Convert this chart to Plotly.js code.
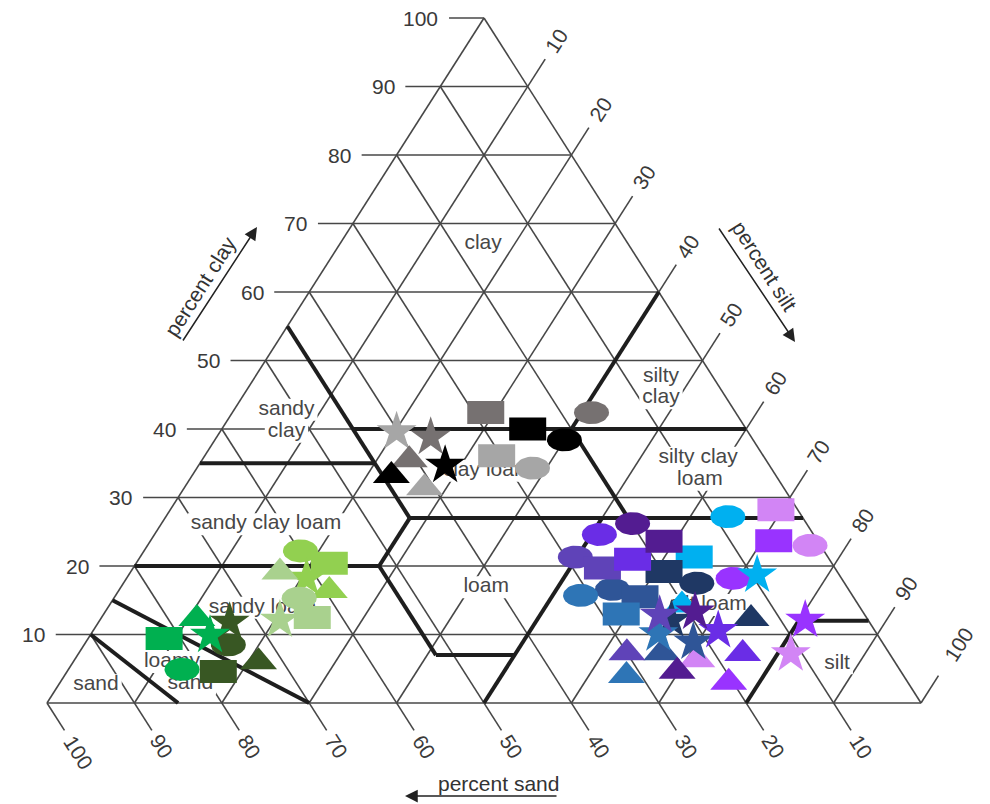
<!DOCTYPE html>
<html>
<head>
<meta charset="utf-8">
<script src="https://cdn.plot.ly/plotly-3.0.1.min.js"></script>
<style>
  html, body { margin: 0; padding: 0; background: #ffffff; }
  #chart { width: 990px; height: 804px; }
</style>
</head>
<body>
<div id="chart"></div>
<script>
// ---- data: soil texture of the samples (percent clay / silt / sand) ----
// one row per sample series, columns follow markerShapes
const seriesColors = ['#a6a6a6', '#767171', '#000000', '#92d050', '#a9d18e', '#385723', '#00b050',
  '#9933ff', '#d285f5', '#00b0f0', '#1f3864', '#2f5597', '#2e75b6', '#5f43b8', '#6a2de6', '#531c91'];
const markerShapes = ['ellipse', 'rect', 'star', 'triangle'];

const clayPct = [
  [34.3, 36.1, 39.6, 31.4],
  [42.4, 42.4, 38.8, 35.5],
  [38.4, 40.0, 34.7, 33.2],
  [22.2, 20.4, 18.2, 16.4],
  [15.3, 12.5, 12.1, 19.1],
  [8.5, 4.6, 11.8, 6.0],
  [4.9, 9.4, 9.9, 12.3],
  [18.2, 23.7, 12.1, 3.0],
  [23.0, 28.2, 7.2, 6.3],
  [27.2, 21.3, 18.7, 14.3],
  [17.5, 19.2, 12.1, 12.3],
  [16.6, 15.5, 8.9, 7.3],
  [15.7, 13.0, 10.1, 4.0],
  [21.3, 19.7, 12.8, 7.3],
  [24.6, 21.0, 10.6, 7.2],
  [26.2, 23.6, 13.3, 4.6]
];
const siltPct = [
  [38.4, 33.4, 20.2, 27.5],
  [41.1, 29.0, 24.5, 23.7],
  [40.0, 35.0, 28.2, 22.8],
  [17.9, 22.1, 20.6, 24.1],
  [21.2, 24.1, 20.6, 17.1],
  [16.5, 17.3, 15.0, 21.2],
  [13.0, 8.7, 13.7, 11.0],
  [69.4, 71.3, 80.7, 76.5],
  [75.8, 69.3, 81.5, 71.2],
  [64.3, 63.4, 71.9, 65.5],
  [65.6, 61.0, 65.4, 74.4],
  [56.4, 60.1, 69.5, 66.7],
  [53.2, 59.2, 64.9, 64.3],
  [49.8, 53.7, 63.7, 62.7],
  [50.9, 56.5, 71.5, 76.0],
  [53.9, 58.8, 67.5, 69.8]
];
const sandPct = [
  [27.3, 30.5, 40.2, 41.1],
  [16.5, 28.6, 36.7, 40.8],
  [21.6, 25.0, 37.1, 44.0],
  [59.9, 57.5, 61.2, 59.5],
  [63.5, 63.4, 67.3, 63.8],
  [75.0, 78.1, 73.2, 72.8],
  [82.1, 81.9, 76.4, 76.7],
  [12.4, 5.0, 7.2, 20.5],
  [1.2, 2.5, 11.3, 22.5],
  [8.5, 15.3, 9.4, 20.2],
  [16.9, 19.8, 22.5, 13.3],
  [27.0, 24.4, 21.6, 26.0],
  [31.1, 27.8, 25.0, 31.7],
  [28.9, 26.6, 23.5, 30.0],
  [24.5, 22.5, 17.9, 16.8],
  [19.9, 17.6, 19.2, 25.6]
];

// axis tick values (percent)
const tickValues = [10, 20, 30, 40, 50, 60, 70, 80, 90, 100];

// USDA texture class boundaries, each as [sand, silt, clay] end points
const classBoundaries = [
  [[45, 0, 55], [45, 28, 27]],
  [[65, 0, 35], [45, 20, 35]],
  [[45, 15, 40], [0, 60, 40]],
  [[0, 40, 60], [20, 40, 40]],
  [[20, 40, 40], [20, 53, 27]],
  [[45, 28, 27], [0, 73, 27]],
  [[45, 28, 27], [52, 28, 20]],
  [[80, 0, 20], [52, 28, 20]],
  [[52, 28, 20], [52, 41, 7]],
  [[52, 41, 7], [43, 50, 7]],
  [[23, 50, 27], [50, 50, 0]],
  [[20, 80, 0], [8, 80, 12]],
  [[8, 80, 12], [0, 88, 12]],
  [[85, 0, 15], [70, 30, 0]],
  [[90, 0, 10], [85, 15, 0]]
];

// texture class names, one entry per text line, with their [silt, clay] anchor
const classNames = ['clay', 'sandy', 'clay', 'silty', 'clay', 'silty clay', 'loam', 'clay loam',
  'sandy clay loam', 'loam', 'sandy loam', 'silt loam', 'loamy', 'sand', 'sand', 'silt'];
const classSilt = [16.4, 6.0, 7.6, 46.4, 48.0, 56.6, 58.4, 33.4, 12.0, 41.8, 17.7, 68.5, 11.3, 15.0, 4.3, 87.5];
const classClay = [67.0, 42.8, 39.6, 47.7, 44.5, 35.8, 32.6, 33.9, 26.1, 16.9, 13.9, 14.3, 6.0, 2.8, 2.6, 5.8];

// ---- geometry of the drawing ----
const W = 990, H = 804;
const originPx = [47, 703];      // 100 % sand corner
const unitPx = [8.74, 6.85];     // pixels per percent (horizontal, vertical)
const xRange = [-originPx[0] / unitPx[0], (W - originPx[0]) / unitPx[0]];
const yRange = [(originPx[1] - H) / unitPx[1], originPx[1] / unitPx[1]];
const TICK = 4;                  // tick extension, percent units

// ternary (silt, clay) -> plot coordinates
function tern(silt, clay) { return [silt + clay / 2, clay]; }

const FONT = 'Liberation Sans, Arial, Helvetica, sans-serif';
const FONT_SIZE = 21;
const traces = [];

// grid lines every 10 % with their tick extensions
const gx = [], gy = [];
function seg(a, b) { gx.push(a[0], b[0], null); gy.push(a[1], b[1], null); }
for (const k of tickValues) {
  // clay = k (horizontal), extended to the left
  if (k < 100) seg([k / 2 - TICK, k], [100 - k / 2, k]);
  else seg([50 - TICK, 100], [50, 100]);
  // sand = k, extended below the base
  seg(tern(100 - k + TICK, -TICK), tern(0, 100 - k));
  // silt = k, extended beyond the right side
  seg(tern(k, 0), tern(k, 100 - k + TICK));
}
seg(tern(0, 0), tern(100, 0));
seg(tern(100, 0), tern(0, 100));
seg(tern(0, 100), tern(0, 0));
traces.push({ type: 'scatter', mode: 'lines', x: gx, y: gy, hoverinfo: 'skip',
  line: { color: '#474747', width: 1.6 } });

// white knock-out boxes behind the class names
const lp = classSilt.map((s, i) => tern(s, classClay[i]));
const ctx = document.createElement('canvas').getContext('2d');
ctx.font = FONT_SIZE + 'px "Liberation Sans", Arial, sans-serif';
const kx = [], ky = [];
classNames.forEach((name, i) => {
  const hw = (ctx.measureText(name).width / 2 + 3) / unitPx[0];
  const hh = 11 / unitPx[1];
  const [cx, cy] = lp[i];
  kx.push(cx - hw, cx + hw, cx + hw, cx - hw, cx - hw, null);
  ky.push(cy - hh, cy - hh, cy + hh, cy + hh, cy - hh, null);
});
traces.push({ type: 'scatter', mode: 'lines', x: kx, y: ky, fill: 'toself', fillcolor: '#ffffff',
  line: { width: 0, color: '#ffffff' }, hoverinfo: 'skip' });

// class boundaries
const bx = [], by = [];
for (const [p, q] of classBoundaries) {
  const a = tern(p[1], p[2]), b = tern(q[1], q[2]);
  bx.push(a[0], b[0], null); by.push(a[1], b[1], null);
}
traces.push({ type: 'scatter', mode: 'lines', x: bx, y: by, hoverinfo: 'skip',
  line: { color: '#1e1e1e', width: 4 } });

// class names
traces.push({ type: 'scatter', mode: 'text', x: lp.map(p => p[0]), y: lp.map(p => p[1]),
  text: classNames, textposition: 'middle center', hoverinfo: 'skip',
  textfont: { family: FONT, size: FONT_SIZE, color: '#474747' } });

// sample markers (sizes in pixels)
const ELL = [35, 23], RECT = [37, 23], TRI = [37, 22], STAR = 30;
function outline(shape, cx, cy) {
  const sx = 1 / unitPx[0], sy = 1 / unitPx[1];
  const xs = [], ys = [];
  if (shape === 'ellipse') {
    for (let i = 0; i <= 48; i++) {
      const t = 2 * Math.PI * i / 48;
      xs.push(cx + Math.cos(t) * ELL[0] / 2 * sx);
      ys.push(cy + Math.sin(t) * ELL[1] / 2 * sy);
    }
  } else if (shape === 'rect') {
    const hx = RECT[0] / 2 * sx, hy = RECT[1] / 2 * sy;
    xs.push(cx - hx, cx + hx, cx + hx, cx - hx, cx - hx);
    ys.push(cy - hy, cy - hy, cy + hy, cy + hy, cy - hy);
  } else {
    const hx = TRI[0] / 2 * sx;
    const top = TRI[1] * 2 / 3 * sy, bot = TRI[1] / 3 * sy;
    xs.push(cx - hx, cx + hx, cx, cx - hx);
    ys.push(cy - bot, cy - bot, cy + top, cy - bot);
  }
  return [xs, ys];
}

seriesColors.forEach((color, s) => {
  markerShapes.forEach((shape, j) => {
    const p = tern(siltPct[s][j], clayPct[s][j]);
    if (shape === 'star') {
      traces.push({ type: 'scatter', mode: 'markers', x: [p[0]], y: [p[1]], hoverinfo: 'skip',
        marker: { symbol: 'star', size: STAR, color: color, line: { width: 0 } } });
    } else {
      const [xs, ys] = outline(shape, p[0], p[1]);
      traces.push({ type: 'scatter', mode: 'lines', x: xs, y: ys, fill: 'toself',
        fillcolor: color, line: { width: 0, color: color }, hoverinfo: 'skip' });
    }
  });
});

// tick labels
const annotations = [];
const tickFont = { family: FONT, size: FONT_SIZE, color: '#3a3a3a' };
for (const k of tickValues) {
  annotations.push({ xref: 'x', yref: 'y', x: k / 2 - TICK - 1.0, y: k, text: String(k),
    xanchor: 'right', yanchor: 'middle', showarrow: false, font: tickFont });
  const ts = k === 100 ? 7.2 : 6.3;
  const ps = tern(100 - k + ts, -ts);
  annotations.push({ xref: 'x', yref: 'y', x: ps[0], y: ps[1], text: String(k), textangle: 57.5,
    xanchor: 'center', yanchor: 'middle', showarrow: false, font: tickFont });
  const tt = k === 100 ? 8.6 : 6.65;
  const pt = tern(k, 100 - k + tt);
  annotations.push({ xref: 'x', yref: 'y', x: pt[0], y: pt[1], text: String(k), textangle: -57.5,
    xanchor: 'center', yanchor: 'middle', showarrow: false, font: tickFont });
}

// axis names and direction arrows
const titleFont = { family: FONT, size: FONT_SIZE, color: '#333333' };
const arrowStyle = { showarrow: true, text: '', arrowhead: 2, arrowsize: 1.7, arrowwidth: 1.5,
  arrowcolor: '#222222', xref: 'paper', yref: 'paper' };
annotations.push(
  { xref: 'paper', yref: 'paper', x: 200 / W, y: 1 - 286 / H, text: 'percent clay', textangle: -57.5,
    xanchor: 'center', yanchor: 'middle', showarrow: false, font: titleFont },
  { xref: 'paper', yref: 'paper', x: 765 / W, y: 1 - 266 / H, text: 'percent silt', textangle: 57.5,
    xanchor: 'center', yanchor: 'middle', showarrow: false, font: titleFont },
  { xref: 'paper', yref: 'paper', x: 498 / W, y: 1 - 783 / H, text: 'percent sand',
    xanchor: 'center', yanchor: 'middle', showarrow: false, font: titleFont },
  Object.assign({ x: 257 / W, y: 1 - 227 / H, ax: -75, ay: 115 }, arrowStyle),
  Object.assign({ x: 795 / W, y: 1 - 342 / H, ax: -77, ay: -115 }, arrowStyle),
  Object.assign({ x: 405 / W, y: 1 - 796 / H, ax: 153, ay: 0 }, arrowStyle)
);

const layout = {
  width: W, height: H,
  margin: { l: 0, r: 0, t: 0, b: 0, pad: 0 },
  paper_bgcolor: '#ffffff', plot_bgcolor: '#ffffff',
  showlegend: false,
  xaxis: { range: xRange, visible: false, fixedrange: true },
  yaxis: { range: yRange, visible: false, fixedrange: true },
  annotations: annotations
};

Plotly.newPlot('chart', traces, layout, { staticPlot: true, displayModeBar: false });
</script>
</body>
</html>
